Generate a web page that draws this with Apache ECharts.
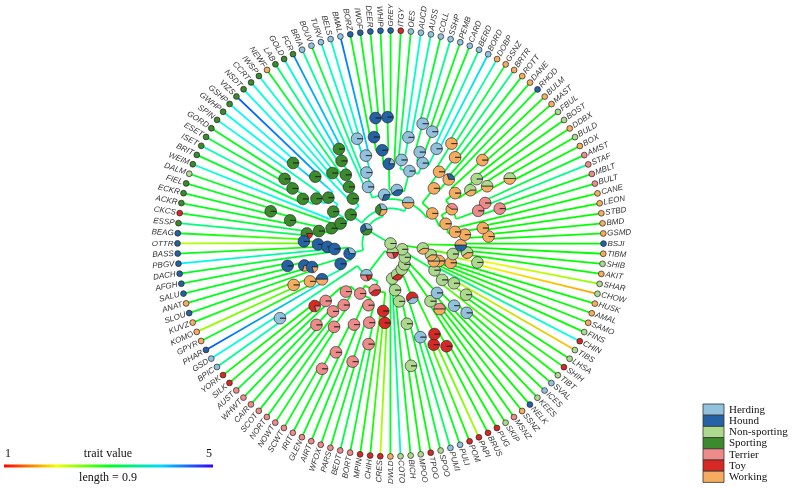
<!DOCTYPE html>
<html>
<head>
<meta charset="utf-8">
<script src="https://cdn.jsdelivr.net/npm/echarts@6/dist/echarts.min.js"></script>
<style>
html, body { margin: 0; background: #fff; }
#chart { width: 794px; height: 488px; }
</style>
</head>
<body>
<div id="chart"></div>
<script>
// tips in plotting order (counter-clockwise, starting at GSD)
const tips = [
  "GSD","BPIC","YORK","SILK","AUST","WHWT","CAIR","SCOT","NORT","NOWT",
  "SCWT","IRIT","GLEN","AIRT","WFOX","PARS","BEDT","BORT","MPIN","CHIH",
  "CRES","DWLD","COTO","BICH","MPOO","TPOO","SPOO","PUMI","PULI","POM",
  "PAPI","BRUS","PUG","SKIP","MSNZ","SSNZ","NELK","KEES","ICES","SVAL",
  "TIBT","SHIH","LHSA","TIBS","CHIN","FINS","SAMO","AMAL","HUSK","CHOW",
  "SHAR","AKIT","SHIB","TIBM","BSJI","GSMD","BMD","STBD","LEON","CANE",
  "BULT","MBLT","STAF","AMST","BOX","BULD","DDBX","BOST","FBUL","MAST",
  "BULM","RHOD","DANE","ROTT","BRTR","GSNZ","DOBP","BORD","BERD","CARD",
  "PEMB","SSHP","COLL","AUSS","AUCD","OES","ITGY","GREY","WHIP","DEER",
  "IWOF","BORZ","BMAL","BELS","TURV","BOUV","BRIA","FCR","GOLD","LAB",
  "NEWF","IWSP","CCRT","NSDT","VIZS","GSHP","GWHP","SPIN","GORD","ESET",
  "ISET","BRIT","WEIM","DALM","FIEL","ECKR","ACKR","CKCS","ESSP","BEAG",
  "OTTR","BASS","PBGV","DACH","AFGH","SALU","ANAT","SLOU","KUVZ","KOMO",
  "GPYR","PHAR"
];
// breed group of each tip (codes below)
const tipGroup = [
  "e","e","y","y","t","t","t","t","t","t",
  "t","t","t","t","t","t","t","t","y","y",
  "y","w","n","n","n","y","n","e","e","y",
  "y","y","y","n","t","w","h","n","e","e",
  "n","y","n","n","y","n","w","w","w","n",
  "n","w","n","w","h","w","w","w","w","w",
  "t","t","t","t","w","n","w","n","n","w",
  "w","h","w","w","w","w","w","e","e","e",
  "e","e","e","e","e","e","y","h","h","h",
  "h","h","e","e","e","e","e","s","s","s",
  "w","s","s","s","s","s","s","s","s","s",
  "s","s","s","n","s","s","s","y","s","h",
  "h","h","h","h","h","h","w","h","w","w",
  "w","h"
];
// continuous trait at each tip
const tipTrait = [
  3.8,3.4,2.9,2.9,3.1,3.0,3.0,3.0,3.0,3.0,
  3.0,3.0,3.0,3.0,3.0,3.0,3.2,3.0,2.9,2.9,
  2.2,3.0,3.6,3.0,2.9,2.9,3.1,3.3,3.0,2.9,
  2.3,2.9,2.9,2.9,2.9,2.9,2.9,2.9,2.9,2.9,
  2.9,2.9,2.9,1.7,3.8,2.9,2.9,2.9,2.9,1.6,
  2.4,2.9,2.9,2.9,2.9,2.9,2.9,2.9,2.9,2.9,
  3.0,3.0,3.5,3.0,2.9,2.9,2.9,2.9,2.9,2.9,
  2.9,3.0,3.0,3.0,3.4,3.0,3.6,4.0,3.4,3.0,
  3.0,3.5,3.0,3.5,3.7,3.0,3.0,3.0,3.0,3.0,
  3.0,3.0,4.4,3.7,3.6,3.0,3.5,4.3,3.7,3.3,
  3.0,3.7,3.7,3.8,4.5,3.9,3.8,3.8,3.0,3.1,
  3.6,3.0,3.7,3.0,3.0,3.0,3.0,3.0,3.4,3.0,
  2.2,3.0,3.9,3.0,3.0,3.0,3.0,3.0,3.0,2.3,
  3.0,4.5
];
const groupCodes = ["e","h","n","s","t","y","w"];
const groupNames = ["Herding","Hound","Non-sporting","Sporting","Terrier","Toy","Working"];
const groupColors = ["#92c1de","#2461a5","#acd98e","#3b8a2c","#ed8a8a","#d72826","#f6ac60"];
const traitMin = 1, traitMax = 5;
const treeHeight = 91;   // tips sit at this depth
const scaleLength = 0.9;

// tree: node label = ancestral pie (group code + weight) @ depth from root
const treeParts = {
  ROOT: "(LOWER,UPPER)n@0",
  LOWER: "(EGT,Q5)n5t3y2@4",
  UPPER: "((((MOLRD,HERD)e5w5@19,SPORT)e3s4w3@15),HOUND)e3h3s4@12",
  EGT: "((GSD,BPIC)e@57,((TERRA,TERRB)t@25,(MPIN,(CHIH,CRES)y@34)y@29)t6y4@21)e5t3y2@17",
  TERRA: "(((YORK,SILK)y8t2@42,AUST)t@37,(((WHWT,CAIR)t@47,SCOT)t@38,(NORT,NOWT)t@43)t@33)t@28",
  TERRB: "((((SCWT,IRIT)t@61,GLEN)t@52,AIRT)t@38,((WFOX,PARS)t@53,(BEDT,BORT)t@44)t@35)t@28",
  Q5: "(((((P5,PUPP)n6y4@13.5,SMS)n@12,NKIS)n@10.7,A4)n@8.5,SPTB)n@5.6",
  P5: "(DWLD,(COTO,(BICH,((MPOO,TPOO)n@53,SPOO)n@35)n@25)n@20)n@15",
  PUPP: "((PUMI,PULI)e@42,((POM,PAPI)y@47,(BRUS,PUG)y@50)y@43)y6e4@25",
  SMS: "(SKIP,(MSNZ,SSNZ)t5w5@35)n@30",
  NKIS: "(NELK,(KEES,(ICES,SVAL)e@44)e@38)e@29",
  A4: "((TIBT,((SHIH,LHSA)n@39,TIBS)n@32)n@27,CHIN)n@22",
  SPTB: "((SPITZW,SPITZE)n6w4@18,(TIBM,BSJI)w5h5@30)n6w4@14",
  SPITZW: "(FINS,(SAMO,(AMAL,HUSK)w@27)w@22)n5w5@20",
  SPITZE: "((CHOW,SHAR)n@38,(AKIT,SHIB)n6w4@33)n@27",
  MOLRD: "(MOL,RD)w@22",
  MOL: "((((GSMD,BMD)w@42,(STBD,LEON)w@40)w@32,CANE)w@28,(BULLT,BULLD)t4w6@30)w@25",
  BULLT: "((BULT,MBLT)t@49,(STAF,AMST)t@44)t@40",
  BULLD: "((((BOX,BULD)n5w5@58,DDBX)n5w5@48,(BOST,FBUL)n@46)n6w4@41,(MAST,BULM)w@53)w@35",
  RD: "((RHOD,DANE)h3w7@37,((ROTT,BRTR)w@46,(GSNZ,DOBP)w@50)w@37)w@30",
  HERD: "((H9,SIGHT)e6h4@23,CONT)e7h3@21",
  H9: "(((BORD,BERD)e@45,((CARD,PEMB)e@51,(SSHP,COLL)e@53)e@41)e@37,((AUSS,AUCD)e@46,OES)e@36)e@32",
  SIGHT: "(ITGY,((GREY,WHIP)h@54,((DEER,IWOF)h@54,BORZ)h@46)h@40)e2h8@34",
  CONT: "(((BMAL,(BELS,TURV)e@47)e@39,BOUV)e@32,BRIA)e@26",
  SPORT: "(RETR,XD)s@21",
  RETR: "(((((FCR,GOLD)s@46,LAB)s@41,NEWF)s@35,(IWSP,CCRT)s@39)s@30,NSDT)s@25",
  XD: "((POINT,WEIM)s@28,(DALM,(((FIEL,ECKR)s@53,ACKR)s@44,(CKCS,ESSP)s8y2@36)s@31)s@26)s@23",
  POINT: "((VIZS,(GSHP,GWHP)s@54)s@43,(SPIN,(((GORD,ESET)s@53,ISET)s@48,BRIT)s@42)s@37)s@33",
  HOUND: "(BOBPD,AK)e3h7@18",
  BOBPD: "((((BEAG,OTTR)h@37,BASS)h@31,PBGV)h@27,DACH)h@24",
  AK: "((((AFGH,SALU)h@45,ANAT)h7w3@38,SLOU)h8w2@35,(((KUVZ,KOMO)w@45,GPYR)w@38,PHAR)h5w5@33)h@23"
};

function parseTree(name) {
  const str = treeParts[name];
  let i = 0;
  const readLabel = () => {
    const s = i;
    while (i < str.length && ",()".indexOf(str[i]) < 0) i++;
    return str.slice(s, i).trim();
  };
  const node = () => {
    if (str[i] === "(") {
      i++;
      const kids = [node()];
      while (str[i] === ",") { i++; kids.push(node()); }
      i++;
      const lab = readLabel();
      if (!lab) return kids.length === 1 ? kids[0] : { kids, pie: "n", depth: 0 };
      const [pie, d] = lab.split("@");
      return { kids, pie, depth: +d };
    }
    const lab = readLabel();
    if (treeParts[lab]) return parseTree(lab);
    return { tip: tips.indexOf(lab) };
  };
  return node();
}

const root = parseTree("ROOT");
const internal = [];
const branches = [];
(function layout(n) {
  if (n.kids) {
    n.kids.forEach(layout);
    n.pos = n.kids.reduce((s, k) => s + k.pos, 0) / n.kids.length;
    n.trait = n.kids.reduce((s, k) => s + k.trait, 0) / n.kids.length;
    n.slices = [];
    n.pie.replace(/([a-z])(\d*\.?\d*)/g, (m, g, w) => { n.slices.push([groupCodes.indexOf(g), w ? +w : 1]); });
    internal.push(n);
  } else {
    n.pos = n.tip; n.depth = treeHeight; n.trait = tipTrait[n.tip];
  }
})(root);
internal.forEach(n => {
  const ps = n.kids.map(k => k.pos);
  branches.push([n.depth, Math.min(...ps), Math.max(...ps), n.trait, n.trait, 1]);
  n.kids.forEach(k => branches.push([k.depth, k.pos, n.depth, n.trait, k.trait, 0]));
});

function traitColor(v) {
  const f = Math.max(0, Math.min(1, (v - traitMin) / (traitMax - traitMin)));
  return "hsl(" + (f * 252).toFixed(1) + ",100%,50%)";
}

const chart = echarts.init(document.getElementById("chart"));
const pieR = 5.8, dotR = 2.9;
const serif = '"Liberation Serif", "Times New Roman", serif';

const option = {
  animation: false,
  polar: { center: [390.5, 243.5], radius: 213 },
  radiusAxis: { type: "value", min: 0, max: treeHeight, show: false },
  angleAxis: { type: "value", min: 0, max: tips.length, startAngle: 212.7, clockwise: false, show: false },
  series: [
    {
      type: "custom", coordinateSystem: "polar", silent: true,
      data: branches,
      renderItem: (params, api) => {
        if (api.value(5) === 1) {
          const pts = [];
          const a = api.value(1), b = api.value(2);
          const steps = Math.max(2, Math.ceil((b - a) * 3));
          for (let k = 0; k <= steps; k++) pts.push(api.coord([api.value(0), a + (b - a) * k / steps]));
          return { type: "polyline", shape: { points: pts }, style: { stroke: traitColor(api.value(3)), lineWidth: 1.8, fill: null } };
        }
        const p1 = api.coord([api.value(2), api.value(1)]);
        const p2 = api.coord([api.value(0), api.value(1)]);
        const c1 = traitColor(api.value(3)), c2 = traitColor(api.value(4));
        const len = Math.hypot(p2[0] - p1[0], p2[1] - p1[1]);
        const stroke = len < 1 ? c2 : new echarts.graphic.LinearGradient(p1[0], p1[1], p2[0], p2[1],
          [{ offset: 0, color: c1 }, { offset: 1, color: c2 }], true);
        return { type: "line", shape: { x1: p1[0], y1: p1[1], x2: p2[0], y2: p2[1] }, style: { stroke, lineWidth: 1.8 } };
      }
    },
    {
      type: "custom", coordinateSystem: "polar", silent: true,
      data: tips.map((t, i) => [treeHeight, i, i]),
      renderItem: (params, api) => {
        const i = api.value(2);
        const c = api.coord([0, 0]);
        const p = api.coord([treeHeight, api.value(1)]);
        const dx = p[0] - c[0], dy = p[1] - c[1];
        const len = Math.hypot(dx, dy);
        const ang = Math.atan2(-dy, dx);
        const flip = Math.cos(ang) < -1e-6;
        return {
          type: "group",
          children: [
            { type: "circle", shape: { cx: p[0], cy: p[1], r: dotR },
              style: { fill: groupColors[groupCodes.indexOf(tipGroup[i])], stroke: "#222", lineWidth: 0.7 } },
            { type: "text", x: p[0] + dx / len * 4, y: p[1] + dy / len * 4, rotation: flip ? ang - Math.PI : ang,
              style: { text: tips[i], align: flip ? "right" : "left", verticalAlign: "middle",
                font: 'italic 8px "Liberation Sans", Arial, sans-serif', fill: "#333" } }
          ]
        };
      }
    },
    {
      type: "custom", coordinateSystem: "polar", silent: true,
      data: internal.map((n, k) => [n.depth, n.pos, k]),
      renderItem: (params, api) => {
        const n = internal[api.value(2)];
        const p = api.coord([api.value(0), api.value(1)]);
        const total = n.slices.reduce((s, x) => s + x[1], 0);
        let a = 0;
        const children = n.slices.map(([g, w]) => {
          const a1 = a + w / total * Math.PI * 2;
          const pts = [[p[0], p[1]]];
          const steps = Math.max(2, Math.ceil((a1 - a) / 0.15));
          for (let k = 0; k <= steps; k++) {
            const t = a + (a1 - a) * k / steps;
            pts.push([p[0] + pieR * Math.cos(t), p[1] - pieR * Math.sin(t)]);
          }
          a = a1;
          return { type: "polygon", shape: { points: pts }, style: { fill: groupColors[g], stroke: "#222", lineWidth: 0.7 } };
        });
        return { type: "group", children };
      }
    }
  ],
  graphic: [
    ...groupNames.map((g, k) => ({
      type: "rect", shape: { x: 703, y: 404 + k * 11.2, width: 21, height: 11.2 },
      style: { fill: groupColors[k], stroke: "#333", lineWidth: 0.8 }
    })),
    ...groupNames.map((g, k) => ({
      type: "text", x: 729, y: 410 + k * 11.2,
      style: { text: g, font: "11px " + serif, fill: "#111", verticalAlign: "middle" }
    })),
    {
      type: "rect", shape: { x: 4, y: 464.5, width: 209, height: 3 },
      style: { fill: new echarts.graphic.LinearGradient(0, 0, 1, 0,
        [0, 0.25, 0.5, 0.75, 1].map(f => ({ offset: f, color: traitColor(traitMin + f * (traitMax - traitMin)) }))) }
    },
    { type: "text", x: 5, y: 454, style: { text: String(traitMin), font: "12px " + serif, fill: "#111", align: "left", verticalAlign: "middle" } },
    { type: "text", x: 212, y: 454, style: { text: String(traitMax), font: "12px " + serif, fill: "#111", align: "right", verticalAlign: "middle" } },
    { type: "text", x: 108, y: 454, style: { text: "trait value", font: "12px " + serif, fill: "#111", align: "center", verticalAlign: "middle" } },
    { type: "text", x: 108, y: 478, style: { text: "length = " + scaleLength, font: "12px " + serif, fill: "#111", align: "center", verticalAlign: "middle" } }
  ]
};
chart.setOption(option);
</script>
</body>
</html>
